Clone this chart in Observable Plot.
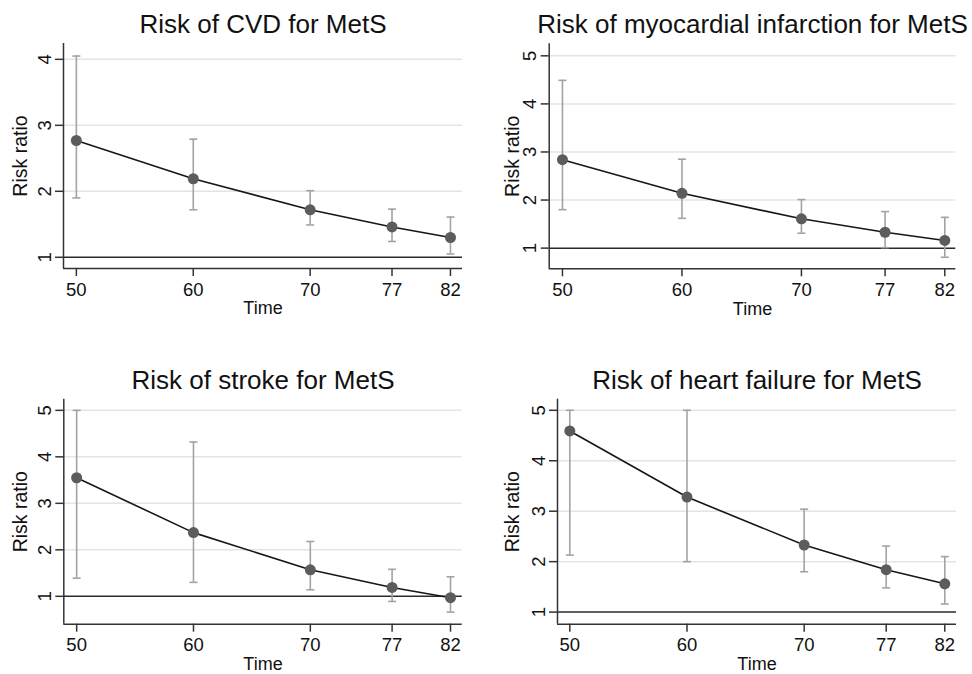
<!DOCTYPE html>
<html><head><meta charset="utf-8">
<script src="https://cdn.jsdelivr.net/npm/d3@7"></script>
<script src="https://cdn.jsdelivr.net/npm/@observablehq/plot@0.6"></script>
<style>
body{margin:0;background:#fff}
#wrap{position:relative;width:972px;height:674px;background:#fff}
.panel{position:absolute}
</style>
</head><body><div id="wrap"></div>
<script>
// ---- data ----
const times = [50, 60, 70, 77, 82];
const titles = ["Risk of CVD for MetS", "Risk of myocardial infarction for MetS", "Risk of stroke for MetS", "Risk of heart failure for MetS"];
const yLabel = "Risk ratio";
const xLabel = "Time";

const cvdRR = [2.77, 2.19, 1.72, 1.46, 1.30];
const cvdLo = [1.90, 1.72, 1.49, 1.24, 1.05];
const cvdHi = [4.05, 2.79, 2.01, 1.73, 1.61];

const miRR = [2.84, 2.14, 1.61, 1.33, 1.16];
const miLo = [1.80, 1.62, 1.31, 1.01, 0.81];
const miHi = [4.49, 2.85, 2.01, 1.76, 1.64];

const strokeRR = [3.55, 2.37, 1.57, 1.19, 0.97];
const strokeLo = [1.39, 1.30, 1.14, 0.89, 0.66];
const strokeHi = [5.00, 4.32, 2.18, 1.58, 1.42];

const hfRR = [4.59, 3.28, 2.33, 1.84, 1.56];
const hfLo = [2.13, 2.00, 1.80, 1.48, 1.16];
const hfHi = [5.00, 5.00, 3.04, 2.31, 2.10];

const ticksCVD = [1, 2, 3, 4];
const ticksOther = [1, 2, 3, 4, 5];
const refValue = 1;

// ---- layout ----
const panels = [
  {rr: cvdRR, lo: cvdLo, hi: cvdHi, ticks: ticksCVD, left: 0, top: 0,
   m: [43, 24, 69, 63], xd: [48.9, 83.03], yd: [0.83, 4.24], ylab: -43},
  {rr: miRR, lo: miLo, hi: miHi, ticks: ticksOther, left: 486, top: 0,
   m: [43.3, 16.7, 68.7, 62.7], xd: [48.89, 82.92], yd: [0.57, 5.25], ylab: -36},
  {rr: strokeRR, lo: strokeLo, hi: strokeHi, ticks: ticksOther, left: 0, top: 337,
   m: [61.7, 24.3, 50.3, 63.3], xd: [48.9, 83.0], yd: [0.40, 5.24], ylab: -43.3},
  {rr: hfRR, lo: hfLo, hi: hfHi, ticks: ticksOther, left: 486, top: 337,
   m: [61.7, 16, 50.3, 71], xd: [48.95, 83.0], yd: [0.76, 5.22], ylab: -44.3}
];

const font = "'Liberation Sans', Arial, Helvetica, sans-serif";
const capSymbol = {draw(ctx, size) { const w = Math.sqrt(size / Math.PI); ctx.moveTo(-w, 0); ctx.lineTo(w, 0); }};

const wrap = document.getElementById("wrap");
panels.forEach((p, i) => {
  const data = times.map((t, j) => ({t, rr: p.rr[j], lo: p.lo[j], hi: p.hi[j]}));
  const chart = Plot.plot({
    width: 486, height: 337,
    marginTop: p.m[0], marginRight: p.m[1], marginBottom: p.m[2], marginLeft: p.m[3],
    style: {fontFamily: font, fontSize: "18px", background: "#fff", overflow: "visible", color: "#111"},
    x: {domain: p.xd},
    y: {domain: p.yd},
    marks: [
      Plot.gridY(p.ticks.filter(d => d !== refValue), {stroke: "#e4e4e4", strokeOpacity: 1, strokeWidth: 1.5}),
      Plot.ruleY([refValue], {stroke: "#2a2a2a", strokeWidth: 1.5}),
      Plot.ruleX([p.xd[0]], {stroke: "#333", strokeWidth: 1.5}),
      Plot.ruleY([p.yd[0]], {stroke: "#333", strokeWidth: 1.5}),
      Plot.axisY({ticks: p.ticks, tickSize: 8, tickPadding: 5, tickRotate: -90, label: null,
        fontSize: 18.5, stroke: "#333", strokeWidth: 1.5, tickFormat: d => d}),
      Plot.axisX({ticks: times, tickSize: 8, tickPadding: 6, label: null,
        fontSize: 18.5, stroke: "#333", strokeWidth: 1.5, tickFormat: d => d}),
      Plot.ruleX(data, {x: "t", y1: "lo", y2: "hi", stroke: "#a3a3a3", strokeWidth: 1.6}),
      Plot.dot(data, {x: "t", y: "lo", symbol: capSymbol, r: 4, stroke: "#a3a3a3", strokeWidth: 1.6, fill: "none"}),
      Plot.dot(data, {x: "t", y: "hi", symbol: capSymbol, r: 4, stroke: "#a3a3a3", strokeWidth: 1.6, fill: "none"}),
      Plot.line(data, {x: "t", y: "rr", stroke: "#161616", strokeWidth: 1.6}),
      Plot.dot(data, {x: "t", y: "rr", r: 5.5, fill: "#5c5c5c", stroke: "none"}),
      Plot.text([titles[i]], {frameAnchor: "top", dy: -19, fontSize: 26, lineAnchor: "middle", fill: "#111"}),
      Plot.text([yLabel], {frameAnchor: "left", dx: p.ylab, rotate: -90, fontSize: 19.5, lineAnchor: "middle", textAnchor: "middle", fill: "#111"}),
      Plot.text([xLabel], {frameAnchor: "bottom", dy: 40, fontSize: 18, lineAnchor: "middle", fill: "#111"})
    ]
  });
  const div = document.createElement("div");
  div.className = "panel";
  div.style.left = p.left + "px";
  div.style.top = p.top + "px";
  div.appendChild(chart);
  wrap.appendChild(div);
});
</script>
</body></html>
